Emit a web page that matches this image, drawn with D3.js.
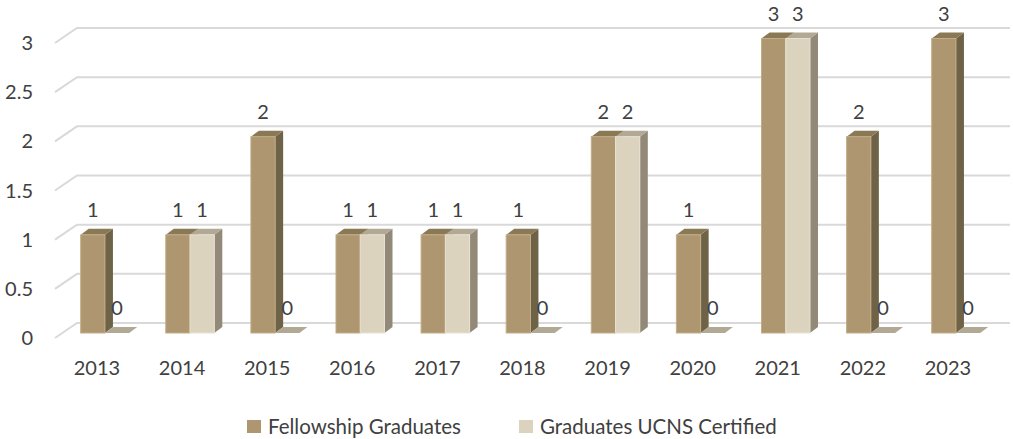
<!DOCTYPE html>
<html>
<head>
<meta charset="utf-8">
<script src="https://cdn.jsdelivr.net/npm/d3@7"></script>
<style>
  body { margin: 0; background: #fff; }
  svg text { font-family: Lato, "Open Sans", sans-serif; fill: #404040; }
</style>
</head>
<body>
<svg width="1013" height="439"></svg>
<script>
var years = ["2013","2014","2015","2016","2017","2018","2019","2020","2021","2022","2023"];
var fellowship = [1,1,2,1,1,1,2,1,3,2,3];
var certified  = [0,1,0,1,1,0,2,0,3,0,0];
var seriesNames = ["Fellowship Graduates", "Graduates UCNS Certified"];
var yTicks = [0,0.5,1,1.5,2,2.5,3];

var colors = {
  "Fellowship Graduates": {front:"#ad9670", side:"#6f6347", top:"#8b7955", edge:"#c2ad86"},
  "Graduates UCNS Certified": {front:"#dcd3bf", side:"#928979", top:"#b2a995", edge:"#e8e1d2"}
};

var fontSize = 20;
var svg = d3.select("svg");

// front plane of the bars
var yFront = d3.scaleLinear().domain([0,3]).range([333, 38.5]);
// back wall where the grid lines sit
var yBack = d3.scaleLinear().domain([0,3]).range([323, 28]);
var depth = {dx: 22, dy: 15};
var barDepth = {dx: 8, dy: 6};

var x0 = d3.scaleBand().domain(years).range([44.1, 1016.8]).padding(0.43);
var x1 = d3.scaleBand().domain(seriesNames).range([0, x0.bandwidth()]);

// grid
var grid = svg.append("g").attr("id","grid");
yTicks.forEach(function(t){
  var yb = yBack(t);
  grid.append("path")
    .attr("d", "M55," + (yb + depth.dy) + "L" + (55 + depth.dx) + "," + yb + "L1010," + yb)
    .attr("fill","none")
    .attr("stroke","#d9d9d9")
    .attr("stroke-width", 2);
  svg.append("text")
    .attr("x", 33)
    .attr("y", yb + depth.dy)
    .attr("dy","0.35em")
    .attr("text-anchor","end")
    .attr("font-size", fontSize)
    .text(t);
});

var rows = years.map(function(y, i){
  return {year: y, values: [
    {key: seriesNames[0], value: fellowship[i]},
    {key: seriesNames[1], value: certified[i]}
  ]};
});

var groups = svg.append("g").attr("id","bars")
  .selectAll("g")
  .data(rows)
  .enter()
  .append("g")
  .attr("transform", function(d){ return "translate(" + x0(d.year) + ",0)"; });

var bars = groups.selectAll("g")
  .data(function(d){ return d.values; })
  .enter()
  .append("g");

// side face
bars.filter(function(d){ return d.value > 0; })
  .append("path")
  .attr("fill", function(d){ return colors[d.key].side; })
  .attr("d", function(d){
    var xr = x1(d.key) + x1.bandwidth();
    var yt = yFront(d.value), yb = yFront(0);
    return "M" + xr + "," + yt + "L" + (xr + barDepth.dx) + "," + (yt - barDepth.dy) +
      "L" + (xr + barDepth.dx) + "," + (yb - barDepth.dy) + "L" + xr + "," + yb + "Z";
  });

// top face
bars.append("path")
  .attr("fill", function(d){ return colors[d.key].top; })
  .attr("d", function(d){
    var xl = x1(d.key), xr = xl + x1.bandwidth();
    var yt = yFront(d.value);
    return "M" + xl + "," + yt + "L" + (xl + barDepth.dx) + "," + (yt - barDepth.dy) +
      "L" + (xr + barDepth.dx) + "," + (yt - barDepth.dy) + "L" + xr + "," + yt + "Z";
  });

// front face
bars.filter(function(d){ return d.value > 0; })
  .append("rect")
  .attr("x", function(d){ return x1(d.key); })
  .attr("y", function(d){ return yFront(d.value); })
  .attr("width", x1.bandwidth())
  .attr("height", function(d){ return yFront(0) - yFront(d.value); })
  .attr("fill", function(d){ return colors[d.key].front; })
  .attr("stroke", function(d){ return colors[d.key].edge; })
  .attr("stroke-width", 1);

// value labels
bars.append("text")
  .attr("x", function(d){ return x1(d.key) + x1.bandwidth() / 2; })
  .attr("y", function(d){ return yFront(d.value) - 25; })
  .attr("dy","0.35em")
  .attr("text-anchor","middle")
  .attr("font-size", fontSize)
  .text(function(d){ return d.value; });

// category labels
svg.append("g").selectAll("text")
  .data(years)
  .enter()
  .append("text")
  .attr("x", function(d){ return x0(d) + x0.bandwidth() / 2 - 8; })
  .attr("y", 368)
  .attr("dy","0.35em")
  .attr("text-anchor","middle")
  .attr("font-size", fontSize)
  .text(function(d){ return d; });

// legend
var legendX = [247, 519];
var lg = svg.append("g").attr("id","legend")
  .selectAll("g")
  .data(seriesNames)
  .enter()
  .append("g")
  .attr("transform", function(d, i){ return "translate(" + legendX[i] + ",420)"; });

lg.append("rect")
  .attr("width", 14).attr("height", 13)
  .attr("fill", function(d){ return colors[d].front; });
lg.append("text")
  .attr("x", 21)
  .attr("y", 7)
  .attr("dy","0.35em")
  .attr("font-size", 20.5)
  .text(function(d){ return d; });
</script>
</body>
</html>
